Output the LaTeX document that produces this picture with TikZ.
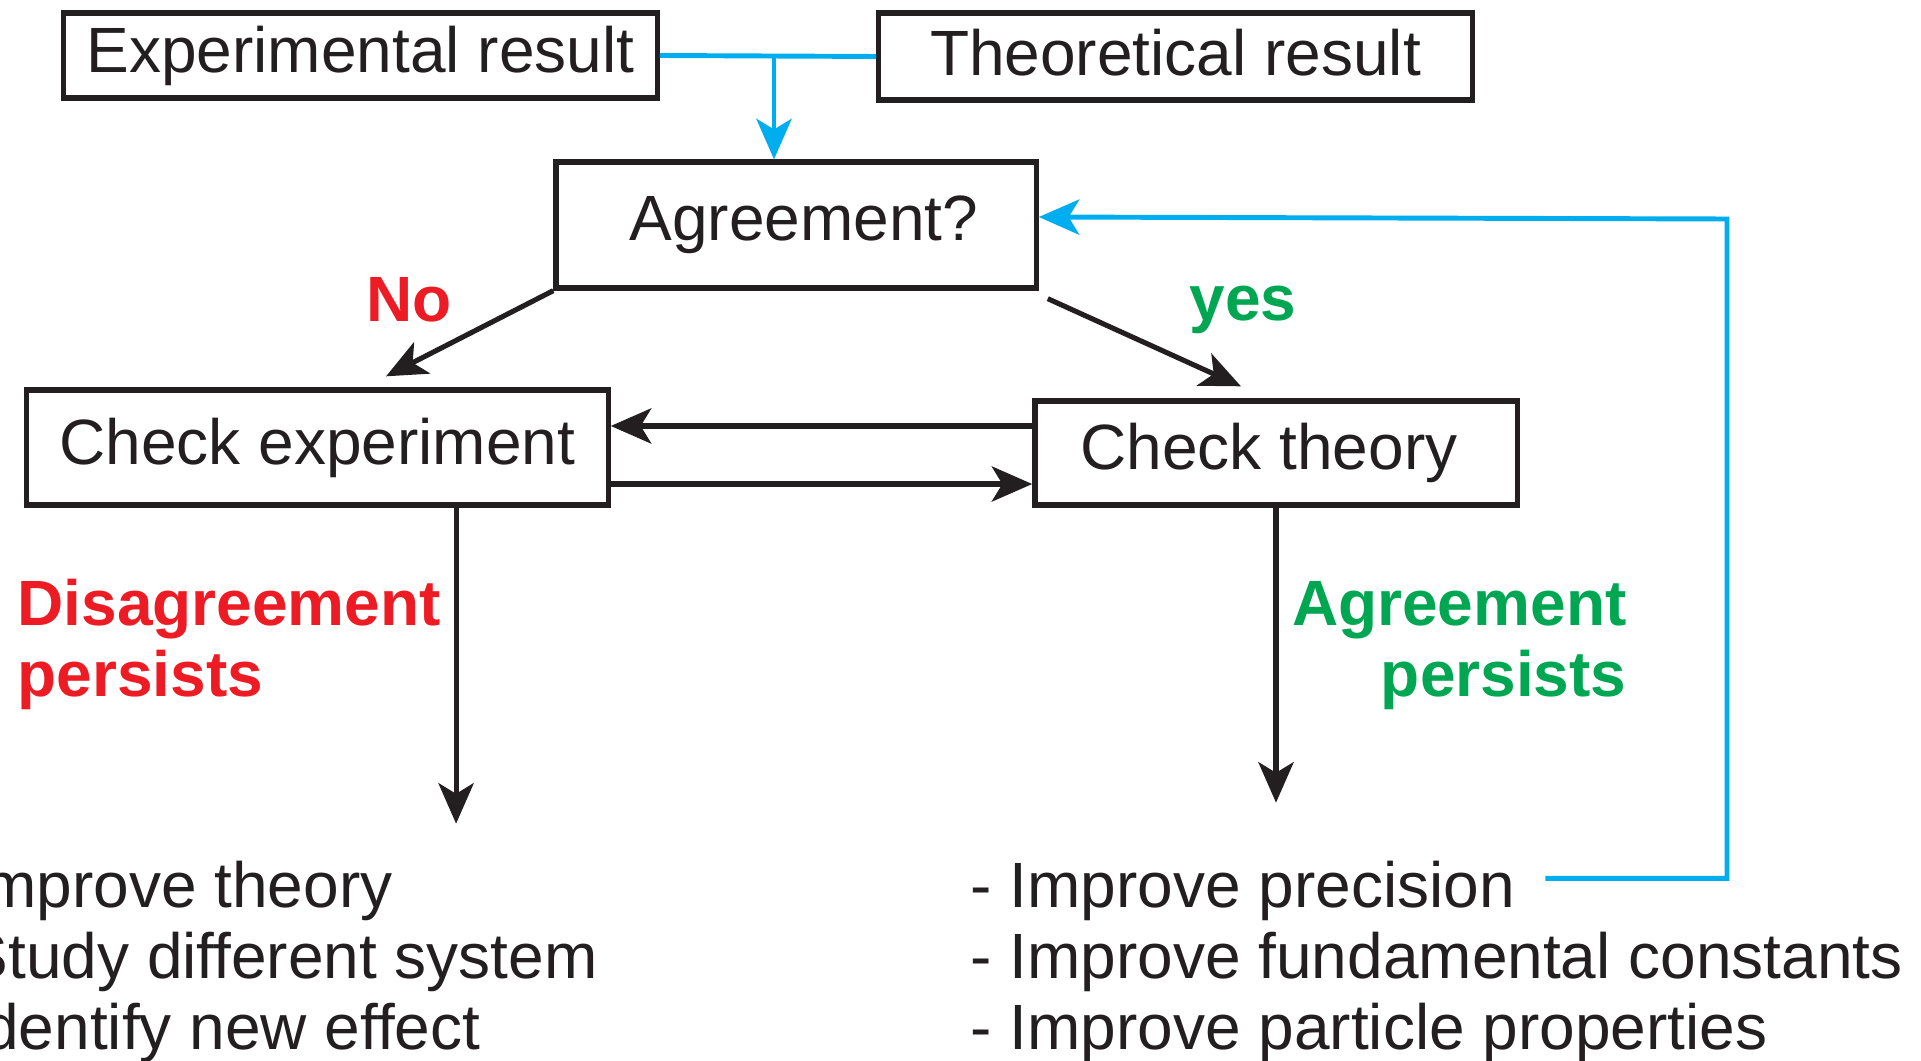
\documentclass[tikz,border=0pt]{standalone}
\usepackage{fontspec}
\setmainfont{Liberation Sans}
\usetikzlibrary{arrows.meta}
\definecolor{ink}{HTML}{231F20}
\definecolor{nored}{HTML}{ED1C24}
\definecolor{yesgreen}{HTML}{00A651}
\definecolor{loopblue}{HTML}{00AEEF}

\begin{document}
\begin{tikzpicture}[x=0.01cm, y=-0.01cm, line width=1.45pt, draw=ink,
	every node/.style={font=\fontsize{18.2}{20}\selectfont, text=ink},
	box/.style={draw=ink, line width=1.5pt, inner sep=0pt},
	item/.style={anchor=base west, inner sep=0pt},
	verdict/.style={font=\fontsize{18.2}{20}\selectfont\bfseries, inner sep=0pt},
	>={Stealth[length=11.5pt, width=10pt, inset=3pt]},
	fb/.style={draw=loopblue, line width=1.4pt}]
	\useasboundingbox (0,0) rectangle (1921,1061);
	\node[box, minimum width=5.93cm, minimum height=0.85cm] (exp) at (360.5,55.5) {Experimental result};
	\node[box, minimum width=5.93cm, minimum height=0.87cm] (theo) at (1175.5,56.5) {\raisebox{0.09cm}{Theoretical result}};
	\node[box, minimum width=4.80cm, minimum height=1.26cm] (agr) at (796,225) {\hspace*{0.16cm}Agreement?};
	\node[box, minimum width=5.81cm, minimum height=1.15cm] (chkexp) at (317.5,447.5) {\raisebox{-0.07cm}{Check experiment}};
	\node[box, minimum width=4.82cm, minimum height=1.04cm] (chkth) at (1276,453) {\raisebox{-0.03cm}{Check theory}\hspace*{0.14cm}};
	\node[verdict, text=nored, anchor=base west] (no) at (364,322) {No};
	\node[verdict, text=yesgreen, anchor=base west] (yes) at (1187,321) {yes};
	\node[verdict, text=nored, anchor=base west, align=left] (dis) at (15,696) {Disagreement\\persists};
	\node[verdict, text=yesgreen, anchor=base east, align=right] (agp) at (1629,696) {Agreement\\persists};
	\foreach \t [count=\i] in {Improve theory, Study different system, Identify new effect}
		\node[item] (l\i) at (-76,{836+71*\i}) {- \t};
	\foreach \t [count=\i] in {Improve precision, Improve fundamental constants, Improve particle properties}
		\node[item] (r\i) at (968,{836+71*\i}) {- \t};
	% blue: inputs and feedback loop
	\coordinate (split) at (774,55);
	\coordinate (back) at (1727,219);
	\draw[fb] (exp.east) -- (theo.west);
	\draw[fb, ->] (split) -- (split |- agr.north);
	\draw[fb, ->] ([shift={(0.28cm,0.12cm)}]r1.east) -| (back) -- ([yshift=0.08cm]agr.east);
	% black arrows
	\draw[->] (agr.south west) -- ([shift={(0.685cm,0.11cm)}]chkexp.north);
	\draw[->] ([shift={(0.09cm,-0.08cm)}]agr.south east) -- ([shift={(-0.35cm,0.12cm)}]chkth.north);
	\draw[->] ([yshift=0.27cm]chkth.west) -- ([yshift=0.27cm]chkth.west -| chkexp.east);
	\draw[->] ([yshift=-0.365cm]chkexp.east) -- ([yshift=-0.365cm]chkexp.east -| chkth.west);
	\draw[->] ([xshift=1.385cm]chkexp.south) -- +(0,316);
	\draw[->] (chkth.south) -- +(0,295);
\end{tikzpicture}
\end{document}
